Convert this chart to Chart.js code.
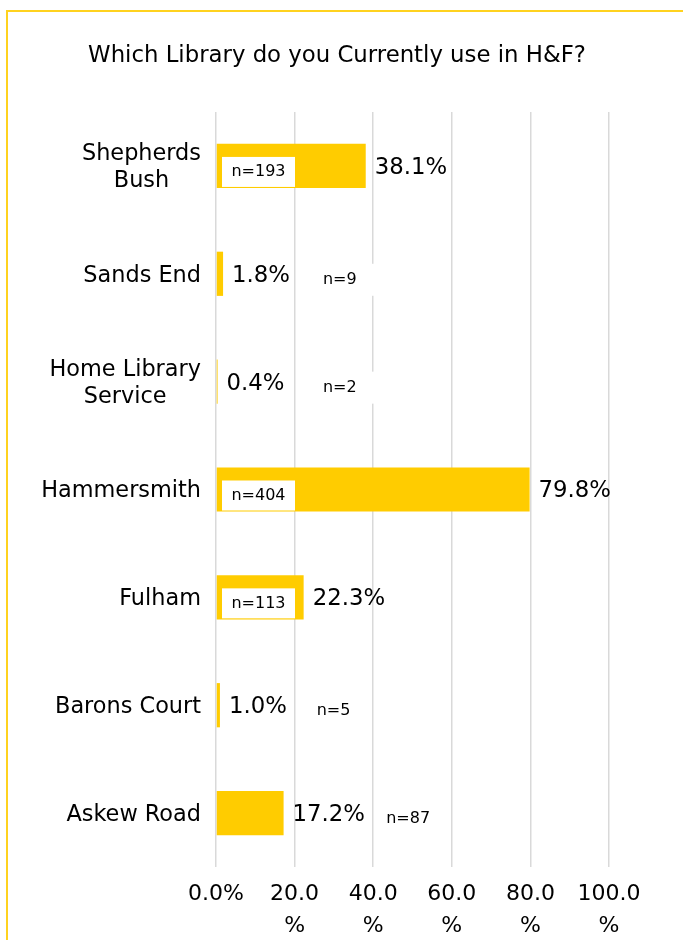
<!DOCTYPE html>
<html lang="en">
<head>
    <meta charset="UTF-8">
    <title>Which Library do you Currently use in H&amp;F?</title>
    <script src="https://cdn.jsdelivr.net/npm/chart.js"></script>
    <style>
        body { margin: 0; background: white; }
        .wrap { width: 683px; height: 940px; position: relative; }
    </style>
</head>
<body>
    <div class="wrap"><canvas id="grafico"></canvas></div>
    <script>
        // datos
        const libraries = [["Shepherds", "Bush"], "Sands End", ["Home Library", "Service"], "Hammersmith", "Fulham", "Barons Court", "Askew Road"];
        const percentUse = [38.1, 1.8, 0.4, 79.8, 22.3, 1.0, 17.2];
        const respondents = [193, 9, 2, 404, 113, 5, 87];
        const xTicks = [0, 20, 40, 60, 80, 100];
        const chartTitle = "Which Library do you Currently use in H&F?";

        const FONT = "'DejaVu Sans', Verdana, sans-serif";
        const YELLOW = "#FFCC00";

        // where the n= label goes: inside the bar (boxed) or at a spot on the value axis
        const nPlacement = [
            { inside: true },
            { at: 31.5, box: true },
            { at: 31.5, box: true },
            { inside: true },
            { inside: true },
            { at: 29.9 },
            { at: 48.9 }
        ];

        const framePlugin = {
            id: "frame",
            beforeDraw(chart) {
                const ctx = chart.ctx;
                ctx.save();
                ctx.strokeStyle = "#FFD21F";
                ctx.lineWidth = 2;
                ctx.beginPath();
                ctx.moveTo(7, 940);
                ctx.lineTo(7, 11);
                ctx.lineTo(683, 11);
                ctx.stroke();
                // title, centred on the whole frame
                ctx.fillStyle = "#000";
                ctx.font = "22.8px " + FONT;
                ctx.textAlign = "center";
                ctx.textBaseline = "middle";
                ctx.fillText(chartTitle, 337, 56);
                ctx.restore();
            }
        };

        const labelsPlugin = {
            id: "labels",
            afterDatasetsDraw(chart) {
                const ctx = chart.ctx;
                const x = chart.scales.x, y = chart.scales.y;
                const meta = chart.getDatasetMeta(0);
                ctx.save();
                ctx.textBaseline = "middle";

                // category labels: block right aligned, lines centred
                ctx.font = "22.4px " + FONT;
                ctx.fillStyle = "#000";
                libraries.forEach((lab, i) => {
                    const lines = Array.isArray(lab) ? lab : [lab];
                    const w = Math.max(...lines.map(l => ctx.measureText(l).width));
                    const cx = 201 - w / 2;
                    const cy = y.getPixelForValue(i) + 2;
                    ctx.textAlign = "center";
                    lines.forEach((l, k) => {
                        ctx.fillText(l, cx, cy + (k - (lines.length - 1) / 2) * 27);
                    });
                });

                // value labels
                ctx.font = "22.8px " + FONT;
                ctx.textAlign = "left";
                meta.data.forEach((bar, i) => {
                    ctx.fillText(percentUse[i].toFixed(1) + "%", bar.x + 9, bar.y + 2);
                });

                // n= labels
                ctx.font = "16px " + FONT;
                meta.data.forEach((bar, i) => {
                    const txt = "n=" + respondents[i];
                    const p = nPlacement[i];
                    const cy = bar.y + 6;
                    let cx;
                    if (p.inside) {
                        const bx = x.getPixelForValue(0) + 6;
                        ctx.fillStyle = "white";
                        ctx.fillRect(bx, cy - 15, 73, 30);
                        cx = bx + 36.5;
                    } else {
                        cx = x.getPixelForValue(p.at);
                        if (p.box) {
                            ctx.fillStyle = "white";
                            ctx.fillRect(cx - 38, cy - 16, 76, 32);
                        }
                    }
                    ctx.fillStyle = "#000";
                    ctx.textAlign = "center";
                    ctx.fillText(txt, cx, cy);
                });
                ctx.restore();
            }
        };

        new Chart(document.getElementById("grafico"), {
            type: "bar",
            data: {
                labels: libraries,
                datasets: [{
                    data: percentUse,
                    backgroundColor: YELLOW,
                    barPercentage: 0.41,
                    categoryPercentage: 1
                }]
            },
            options: {
                indexAxis: "y",
                responsive: true,
                maintainAspectRatio: false,
                animation: false,
                layout: { padding: { left: 0, right: 74, top: 112, bottom: 0 } },
                plugins: {
                    legend: { display: false },
                    tooltip: { enabled: false },
                    title: { display: false }
                },
                scales: {
                    x: {
                        min: 0,
                        max: 100,
                        afterBuildTicks: s => { s.ticks = xTicks.map(v => ({ value: v })); },
                        afterFit: s => { s.height = 73; },
                        border: { display: false },
                        grid: { color: "#D9D9D9", lineWidth: 1.5, drawTicks: false },
                        ticks: {
                            padding: 11,
                            color: "#000",
                            maxRotation: 0,
                            autoSkip: false,
                            font: { family: FONT, size: 22, lineHeight: 1.45 },
                            callback: v => v === 0 ? "0.0%" : [v.toFixed(1), "%"]
                        }
                    },
                    y: {
                        afterFit: s => { s.width = 216; },
                        border: { display: false },
                        grid: { display: false },
                        ticks: { display: false }
                    }
                }
            },
            plugins: [framePlugin, labelsPlugin]
        });
    </script>
</body>
</html>
